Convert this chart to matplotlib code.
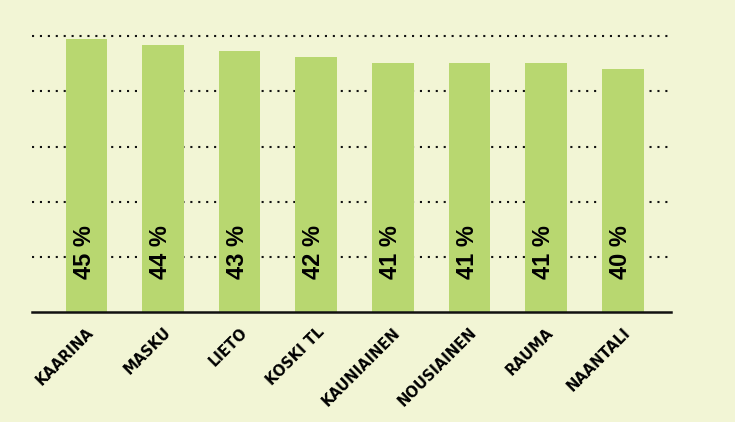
import numpy as np
from matplotlib import pyplot as plt

towns = ['KAARINA', 'MASKU', 'LIETO', 'KOSKI TL', 'KAUNIAINEN',
         'NOUSIAINEN', 'RAUMA', 'NAANTALI']
shares = [45, 44, 43, 42, 41, 41, 41, 40]
value_labels = ['%d %%' % v for v in shares]

bg = '#f2f5d5'
bar_color = '#b8d770'

fig = plt.figure(figsize=(7.35, 4.22), dpi=100, facecolor=bg)
# axes placed in pixel terms: x 32..671, bottom at y=312, 6.07 px per unit
ymax = 48
px_per_unit = 6.07
ax_h = ymax * px_per_unit
ax = fig.add_axes([32 / 735, (422 - 312.3) / 422, (671 - 32) / 735, ax_h / 422])
ax.set_facecolor(bg)

x = np.arange(len(towns))
ax.bar(x, shares, width=0.543, color=bar_color, zorder=2)

for xi, lab in zip(x, value_labels):
    ax.text(xi - 0.03, 5.5, lab, rotation=90, ha='center', va='bottom',
            fontsize=17, fontweight='bold',
            family='Liberation Sans', color='black', zorder=3)

ax.set_xlim(-0.71, 7.63)
ax.set_ylim(0, ymax)
ax.set_yticks(np.linspace(0, 45.5, 6)[1:])
ax.yaxis.grid(True, linestyle=(0, (1, 2.8)), color='#111111', linewidth=1.5, zorder=1)
ax.tick_params(axis='y', left=False, labelleft=False)

ax.set_xticks(x)
ax.set_xticklabels(towns, rotation=45, ha='right', rotation_mode='anchor',
                   fontsize=10.5, fontweight='bold', family='DejaVu Sans')
ax.tick_params(axis='x', length=0, pad=9)

for side in ['top', 'right', 'left']:
    ax.spines[side].set_visible(False)
ax.spines['bottom'].set_linewidth(1.8)
ax.spines['bottom'].set_color('#111111')
ax.spines['bottom'].set_zorder(4)

plt.savefig('out.png', dpi=100, facecolor=bg)
